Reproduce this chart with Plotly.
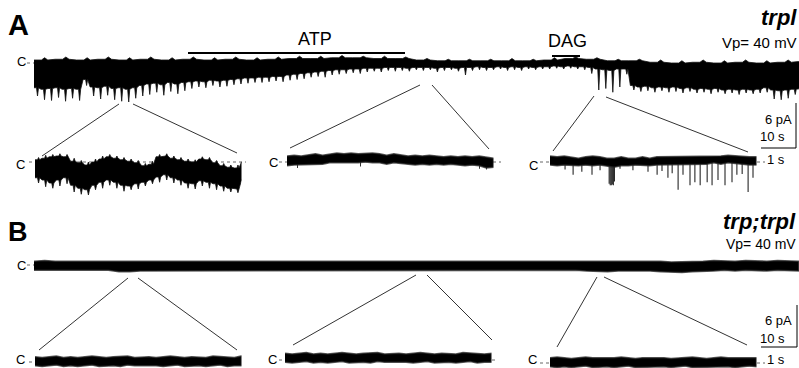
import numpy as np
import plotly.graph_objects as go

W, H = 799, 368
FONT = "Arial, Liberation Sans, sans-serif"

# Scales: 10 s = 35 px (main traces), 1 s = 35 px (insets), 6 pA = 45 px
PX_PER_S_MAIN = 3.5
PX_PER_S_INSET = 35.0
PX_PER_PA = 7.5
MAIN_DUR = 218.5   # s, length of the long records
INSET_DUR = 5.9    # s, length of the expanded segments

# ---------------- A: trpl, long record (pA relative to closed level C) ----------------
# upper edge / upward excursions, lower edge of the dense core / downward excursions
A_hi = [0.4, 0.5, 0.4, 0.5, 0.4, 0.5, 0.4, 0.5, 0.4, 0.5,
        0.4, 0.5, 0.6, 0.6, 0.7, 0.7, 0.6, 0.6, 0.4, 0.3,
        0.3, 0.3, 0.3, 0.3, 0.4, 0.6, 0.5, 0.3, 0.3, 0.1,
        0.0, 0.1, 0.0, 0.1, 0.0, 0.1, 0.2]
A_up = [0.7, 0.8, 0.7, 0.8, 0.7, 0.8, 0.7, 0.8, 0.7, 0.8,
        0.7, 0.8, 0.9, 0.9, 1.0, 0.9, 0.9, 0.8, 0.6, 0.5,
        0.5, 0.5, 0.6, 0.5, 0.7, 0.8, 0.7, 0.5, 0.5, 0.4,
        0.3, 0.4, 0.3, 0.4, 0.3, 0.4, 0.4]
A_lo = [-3.3, -3.5, -3.4, -3.3, -3.5, -3.4, -3.5, -2.2, -3.2, -3.3,
        -3.1, -3.4, -3.3, -3.5, -3.3, -3.0, -2.8, -2.7, -2.9, -2.6,
        -2.8, -2.6, -2.5, -2.4, -2.5, -2.3, -2.4, -2.3, -2.2, -2.1,
        -2.0, -2.0, -1.9, -1.9, -1.8, -1.8, -1.6, -1.5, -1.4, -1.3,
        -1.2, -1.1, -1.0, -0.9, -0.9, -0.8, -0.8, -0.7, -0.7, -0.7,
        -0.6, -0.6, -0.6, -0.7, -0.6, -0.6, -0.6, -0.7, -0.6, -0.6,
        -0.7, -0.6, -0.6, -0.5, -0.6, -0.6, -0.5, -0.6, -0.5, -0.6,
        -0.5, -0.6, -0.5, -0.5, -0.4, -0.5, -0.4, -0.5, -0.5, -0.6,
        -0.8, -0.9, -1.0, -0.8, -0.8, -3.0, -3.2, -3.1, -3.3, -3.2,
        -3.3, -3.2, -3.4, -3.3, -3.5, -3.4, -3.5, -3.4, -3.6, -3.5,
        -3.6, -3.5, -3.6, -3.5, -3.3, -3.6, -3.7, -3.6, -3.5, -3.4]
A_pk = [-4.4, -4.9, -5.0, -4.6, -5.1, -4.7, -5.0, -3.0, -4.4, -4.8,
        -4.3, -4.9, -5.1, -5.2, -4.7, -4.4, -4.2, -3.9, -4.3, -3.8,
        -4.1, -3.7, -3.4, -3.2, -3.3, -3.0, -3.2, -3.1, -2.9, -2.8,
        -2.7, -2.6, -2.6, -2.5, -2.4, -2.5, -2.3, -2.2, -2.1, -1.9,
        -1.8, -1.9, -1.6, -1.5, -1.4, -1.3, -1.4, -1.2, -1.1, -1.2,
        -1.0, -1.1, -1.0, -1.1, -0.9, -1.0, -0.9, -1.2, -1.0, -0.9,
        -1.1, -1.6, -1.0, -0.9, -1.0, -0.9, -0.8, -1.0, -0.9, -1.0,
        -0.8, -0.9, -0.8, -0.8, -0.7, -0.8, -0.7, -0.8, -0.9, -1.4,
        -3.6, -3.4, -3.9, -3.2, -1.5, -3.6, -3.8, -3.7, -3.9, -3.7,
        -3.9, -3.8, -4.0, -3.8, -4.0, -3.9, -4.1, -3.9, -4.1, -4.0,
        -4.2, -4.0, -4.1, -4.0, -3.9, -4.8, -4.9, -4.7, -4.2, -3.9]

# A insets (expanded 1 s scale)
A1_hi = [0.3, 0.5, 0.7, 0.8, 0.7, 0.1, -0.1, -0.4, 0.0, 0.4,
         0.7, 0.5, 0.3, 0.1, -0.1, -0.5, -0.3, 0.7, 0.8, 0.5,
         0.3, 0.1, 0.0, 0.4, 0.3, -0.1, -0.5, -0.7, -0.8, 0.0]
A1_up = [0.6, 0.9, 1.0, 1.1, 1.0, 0.5, 0.2, 0.0, 0.4, 0.8,
         1.0, 0.8, 0.6, 0.4, 0.2, -0.2, 0.1, 1.0, 1.1, 0.8,
         0.6, 0.4, 0.3, 0.7, 0.6, 0.2, -0.2, -0.4, -0.4, 0.3]
A1_lo = [-2.1, -2.4, -2.8, -2.4, -2.1, -3.1, -3.5, -3.7, -3.1, -2.7,
         -2.4, -2.7, -3.1, -3.2, -2.9, -2.7, -2.4, -2.0, -1.7, -2.1,
         -2.4, -2.8, -2.9, -2.5, -2.7, -2.9, -3.2, -3.5, -3.6, -2.4]
A1_pk = [-2.8, -3.3, -3.5, -3.2, -2.9, -4.0, -4.3, -4.4, -3.7, -3.5,
         -3.1, -3.5, -3.9, -3.7, -3.6, -3.2, -2.9, -2.7, -2.4, -2.8,
         -3.1, -3.5, -3.6, -3.2, -3.5, -3.7, -3.9, -4.0, -4.1, -3.2]

A2_hi = [0.8, 0.9, 0.8, 0.9, 1.1, 0.9, 1.1, 1.2, 1.1, 1.2,
         1.1, 1.2, 1.2, 1.1, 0.9, 1.1, 0.9, 0.8, 0.9, 0.8,
         0.9, 0.8, 0.7, 0.8, 0.7, 0.8, 0.7, 0.8, 0.7, 0.5]
A2_lo = [-0.5, -0.4, -0.4, -0.3, -0.3, -0.3, -0.1, -0.1, -0.1, -0.1,
         -0.1, 0.0, -0.1, -0.1, -0.3, -0.1, -0.3, -0.3, -0.4, -0.3,
         -0.4, -0.3, -0.4, -0.3, -0.4, -0.5, -0.4, -0.5, -0.8, -0.7]
A2_spk_t = [0.3, 2.1, 5.5, 5.7]
A2_spk_v = [-0.8, -0.6, -0.9, -1.0]

A3_hi = [0.8, 0.7, 0.8, 0.7, 0.5, 0.7, 0.8, 0.7, 0.5, 0.5,
         0.7, 0.5, 0.5, 0.7, 0.5, 0.7, 0.7, 0.8, 0.8, 0.7,
         0.8, 0.8, 0.7, 0.8, 0.8, 0.9, 0.8, 0.8, 0.7, 0.7]
A3_lo = [-0.4, -0.5, -0.4, -0.4, -0.5, -0.4, -0.5, -0.4, -0.5, -0.7,
         -0.5, -0.5, -0.4, -0.4, -0.5, -0.4, -0.4, -0.3, -0.3, -0.4,
         -0.3, -0.3, -0.3, -0.1, -0.3, -0.1, -0.3, -0.3, -0.4, -0.4]
A3_spk_t = [0.43, 0.66, 0.91, 1.2, 1.43, 1.69, 1.72, 1.75, 1.78, 1.81, 1.84,
            2.0, 2.37, 2.8, 3.06, 3.2, 3.37, 3.49, 3.66, 3.8, 4.0, 4.14,
            4.29, 4.49, 4.63, 4.8, 5.0, 5.2, 5.34, 5.49, 5.66, 5.8]
A3_spk_v = [-1.0, -1.7, -1.3, -1.7, -1.1, -2.9, -3.1, -3.1, -3.0, -3.1, -2.6,
            -0.9, -1.1, -1.3, -1.7, -1.2, -2.1, -1.5, -3.7, -1.7, -3.1, -2.7,
            -3.1, -2.7, -3.1, -2.4, -3.1, -2.7, -1.7, -1.6, -4.0, -2.1]

# ---------------- B: trp;trpl ----------------
B_hi = [0.5, 0.6, 0.5, 0.5, 0.6, 0.5, 0.5, 0.6, 0.6, 0.6,
        0.6, 0.5, 0.5, 0.6, 0.5, 0.5, 0.6, 0.5, 0.5, 0.6,
        0.5, 0.5, 0.6, 0.6, 0.5, 0.5, 0.6, 0.5, 0.5, 0.6,
        0.5, 0.5, 0.6, 0.5, 0.6, 0.5, 0.5, 0.6, 0.5, 0.5,
        0.6, 0.5, 0.5, 0.6, 0.5, 0.6, 0.5, 0.5, 0.6, 0.5,
        0.5, 0.6, 0.5, 0.6, 0.5, 0.5, 0.6, 0.5, 0.5, 0.5,
        0.4, 0.4, 0.5, 0.5, 0.6, 0.5, 0.5, 0.6, 0.5, 0.5,
        0.6, 0.5, 0.5]
B_lo = [-0.7, -0.7, -0.8, -0.7, -0.7, -0.8, -0.7, -0.7, -0.9, -0.9,
        -0.8, -0.7, -0.7, -0.8, -0.7, -0.7, -0.8, -0.7, -0.7, -0.7,
        -0.8, -0.7, -0.7, -0.7, -0.8, -0.7, -0.7, -0.8, -0.7, -0.7,
        -0.7, -0.8, -0.7, -0.7, -0.8, -0.7, -0.7, -0.7, -0.8, -0.7,
        -0.7, -0.8, -0.7, -0.7, -0.7, -0.8, -0.7, -0.7, -0.8, -0.7,
        -0.7, -0.7, -0.8, -0.9, -0.9, -0.8, -0.7, -0.8, -0.8, -0.9,
        -1.0, -1.0, -0.9, -0.8, -0.8, -0.7, -0.8, -0.7, -0.7, -0.8,
        -0.7, -0.7, -0.8]

B1_hi = [0.7, 0.6, 0.7, 0.8, 0.6, 0.7, 0.6, 0.7, 0.8, 0.7,
         0.6, 0.7, 0.7, 0.8, 0.6, 0.7, 0.7, 0.6, 0.7, 0.8,
         0.7, 0.6, 0.7, 0.7, 0.6, 0.8, 0.7, 0.7, 0.6, 0.8]
B1_lo = [-0.5, -0.6, -0.5, -0.4, -0.6, -0.5, -0.6, -0.5, -0.4, -0.6,
         -0.5, -0.5, -0.6, -0.4, -0.5, -0.6, -0.5, -0.5, -0.6, -0.5,
         -0.4, -0.6, -0.5, -0.5, -0.6, -0.5, -0.4, -0.6, -0.5, -0.5]
B2_hi = [0.9, 0.8, 0.9, 1.0, 0.8, 0.9, 0.8, 0.9, 1.0, 0.9,
         0.8, 0.9, 0.9, 1.0, 0.8, 0.9, 0.9, 0.8, 0.9, 1.0,
         0.9, 0.8, 0.9, 0.9, 0.8, 1.0, 0.9, 0.9, 0.8, 0.9]
B2_lo = [-0.3, -0.4, -0.3, -0.2, -0.4, -0.3, -0.4, -0.3, -0.2, -0.4,
         -0.3, -0.3, -0.4, -0.2, -0.3, -0.4, -0.3, -0.3, -0.4, -0.3,
         -0.2, -0.4, -0.3, -0.3, -0.4, -0.3, -0.2, -0.4, -0.3, -0.3]
B3_hi = [0.7, 0.8, 0.7, 0.6, 0.7, 0.8, 0.7, 0.7, 0.6, 0.7,
         0.8, 0.7, 0.6, 0.7, 0.7, 0.8, 0.7, 0.6, 0.7, 0.7,
         0.8, 0.7, 0.6, 0.7, 0.8, 0.7, 0.7, 0.6, 0.7, 0.7]
B3_lo = [-0.5, -0.6, -0.5, -0.6, -0.5, -0.4, -0.6, -0.5, -0.5, -0.6,
         -0.5, -0.4, -0.6, -0.5, -0.6, -0.5, -0.5, -0.6, -0.5, -0.4,
         -0.6, -0.5, -0.5, -0.6, -0.5, -0.5, -0.6, -0.5, -0.4, -0.5]

# ---------------- layout helpers ----------------
layout = dict(width=W, height=H, margin=dict(l=0, r=0, t=0, b=0),
              paper_bgcolor="white", plot_bgcolor="rgba(0,0,0,0)",
              showlegend=False, font=dict(family=FONT, color="black"))
traces, shapes, annos = [], [], []


def px(x):
    return x / W


def py(y):
    return 1 - y / H


def add_axes(k, x0, x1, base, yt, yb, px_per_s):
    xs = "xaxis" if k == 1 else f"xaxis{k}"
    ys = "yaxis" if k == 1 else f"yaxis{k}"
    ax = "x" if k == 1 else f"x{k}"
    ay = "y" if k == 1 else f"y{k}"
    layout[xs] = dict(domain=[px(x0), px(x1)], range=[0, (x1 - x0) / px_per_s],
                      visible=False, anchor=ay, fixedrange=True)
    layout[ys] = dict(domain=[py(yb), py(yt)],
                      range=[(base - yb) / PX_PER_PA, (base - yt) / PX_PER_PA],
                      visible=False, anchor=ax, fixedrange=True)
    return ax, ay


def edge(dur, base, peak=None):
    """Edge of the envelope; with peak, a narrow excursion is placed
    between consecutive samples, where it was read."""
    t = np.linspace(0, dur, len(base))
    if peak is None:
        return list(t), list(base)
    h = (t[1] - t[0]) / 2
    xs, ys = [], []
    for ti, a, b in zip(t, base, peak):
        xs += [ti, ti + 0.7 * h, ti + 1.0 * h, ti + 1.3 * h]
        ys += [a, a, b, a]
    return xs, ys


def band(ax, ay, dur, hi, lo, pk=None, up=None, edgecol="#111", edgew=0.8):
    ux, uy = edge(dur, hi, up)
    lx, ly = edge(dur, lo, pk)
    x = ux + lx[::-1]
    y = uy + ly[::-1]
    traces.append(go.Scatter(x=x, y=y, xaxis=ax, yaxis=ay, mode="lines", fill="toself",
                             fillcolor="black", line=dict(color=edgecol, width=edgew),
                             hoverinfo="skip"))


def spikes(ax, ay, t, y0, y1, color="#333", width=1):
    xs, ys = [], []
    for ti, a, b in zip(t, y0, y1):
        xs += [ti, ti, None]
        ys += [a, b, None]
    traces.append(go.Scatter(x=xs, y=ys, xaxis=ax, yaxis=ay, mode="lines",
                             line=dict(color=color, width=width), hoverinfo="skip"))


def dotted(ay, x0, x1):
    shapes.append(dict(type="line", xref="paper", yref=ay, x0=px(x0), x1=px(x1), y0=0, y1=0,
                       line=dict(color="#666", width=1, dash="dot"), layer="below"))


def seg(x0, y0, x1, y1, w=1, color="#333"):
    shapes.append(dict(type="line", xref="paper", yref="paper", x0=px(x0), y0=py(y0),
                       x1=px(x1), y1=py(y1), line=dict(color=color, width=w)))


def text(s, x, y, size, xa="center", ya="middle"):
    annos.append(dict(text=s, x=px(x), y=py(y), xref="paper", yref="paper", showarrow=False,
                      xanchor=xa, yanchor=ya, borderpad=0,
                      font=dict(size=size, family=FONT, color="black")))


FUZZ = "rgba(40,40,40,0.75)"

# ---------------- panel A ----------------
ax, ay = add_axes(1, 34, 799, 63, 40, 115, PX_PER_S_MAIN)
band(ax, ay, MAIN_DUR, A_hi, A_lo, A_pk, A_up)
dotted(ay, 27, 34)

ax, ay = add_axes(2, 35, 35 + INSET_DUR * 35, 162, 140, 205, PX_PER_S_INSET)
dotted(ay, 29, 246)
band(ax, ay, INSET_DUR, A1_hi, A1_lo, A1_pk, A1_up)

ax, ay = add_axes(3, 287, 287 + INSET_DUR * 35, 162, 140, 185, PX_PER_S_INSET)
dotted(ay, 279, 287)
dotted(ay, 493, 501)
spikes(ax, ay, A2_spk_t, [0] * len(A2_spk_t), A2_spk_v, color="#333")
band(ax, ay, INSET_DUR, A2_hi, A2_lo, edgecol=FUZZ, edgew=1.6)

ax, ay = add_axes(4, 550, 550 + INSET_DUR * 35, 162, 140, 205, PX_PER_S_INSET)
dotted(ay, 540, 550)
dotted(ay, 757, 765)
spikes(ax, ay, A3_spk_t, [0] * len(A3_spk_t), A3_spk_v, color="#111", width=1)
band(ax, ay, INSET_DUR, A3_hi, A3_lo, edgecol=FUZZ, edgew=1.6)

# ---------------- panel B ----------------
ax, ay = add_axes(5, 34, 799, 265, 245, 290, PX_PER_S_MAIN)
band(ax, ay, MAIN_DUR, B_hi, B_lo, edgecol=FUZZ, edgew=1.6)
dotted(ay, 27, 34)

ax, ay = add_axes(6, 35, 35 + INSET_DUR * 35, 362, 345, 368, PX_PER_S_INSET)
dotted(ay, 29, 35)
band(ax, ay, INSET_DUR, B1_hi, B1_lo, edgecol=FUZZ, edgew=1.6)

ax, ay = add_axes(7, 285, 285 + INSET_DUR * 35, 360, 345, 368, PX_PER_S_INSET)
dotted(ay, 279, 285)
dotted(ay, 492, 498)
band(ax, ay, INSET_DUR, B2_hi, B2_lo, edgecol=FUZZ, edgew=1.6)

ax, ay = add_axes(8, 550, 550 + INSET_DUR * 35, 363, 345, 368, PX_PER_S_INSET)
dotted(ay, 540, 550)
dotted(ay, 757, 765)
band(ax, ay, INSET_DUR, B3_hi, B3_lo, edgecol=FUZZ, edgew=1.6)

# ---------------- decorations ----------------
for (x0, y0, x1, y1) in [(119, 104, 42, 156), (133, 104, 237, 153),
                         (420, 85, 290, 148), (432, 85, 489, 149),
                         (594, 96, 553, 151), (606, 97, 748, 152),
                         (128, 278, 39, 350), (138, 278, 237, 350),
                         (416, 275, 293, 345), (427, 275, 492, 340),
                         (597, 277, 557, 347), (604, 277, 747, 345)]:
    seg(x0, y0, x1, y1, w=1, color="#333")

seg(188, 53, 405, 53, w=2, color="black")
seg(552, 56, 580, 56, w=2, color="black")

seg(796, 103, 796, 148, w=1, color="black")
seg(761, 148, 796, 148, w=1, color="black")
seg(797, 305, 797, 347, w=1, color="black")
seg(761, 347, 797, 347, w=1, color="black")

text("<b>A</b>", 7, 25, 29, xa="left")
text("<b>B</b>", 7, 232, 27, xa="left")
text("ATP", 315, 39, 18)
text("DAG", 567, 41, 18)
text("<b><i>trpl</i></b>", 798, 31, 22, xa="right", ya="bottom")
text("Vp= 40 mV", 798, 33, 15, xa="right", ya="top")
text("<b><i>trp;trpl</i></b>", 797, 235, 22, xa="right", ya="bottom")
text("Vp= 40 mV", 797, 235, 14, xa="right", ya="top")

for (x, y) in [(21, 62), (20, 164), (273, 162), (533, 165), (21, 265)]:
    text("C", x, y, 13)
for x in (20, 272, 532):
    text("C", x, 368, 13, ya="bottom")

text("6 pA", 793, 119, 13, xa="right")
text("10 s", 759, 137, 13, xa="left")
text("1 s", 766, 160, 13, xa="left")
text("6 pA", 793, 320, 13, xa="right")
text("10 s", 759, 338, 13, xa="left")
text("1 s", 766, 359, 13, xa="left")

layout["shapes"] = shapes
layout["annotations"] = annos

fig = go.Figure(data=traces, layout=layout)
fig.write_html("out.html", config={"displayModeBar": False},
               post_script="document.body.style.margin='0';document.body.style.overflow='hidden';")
